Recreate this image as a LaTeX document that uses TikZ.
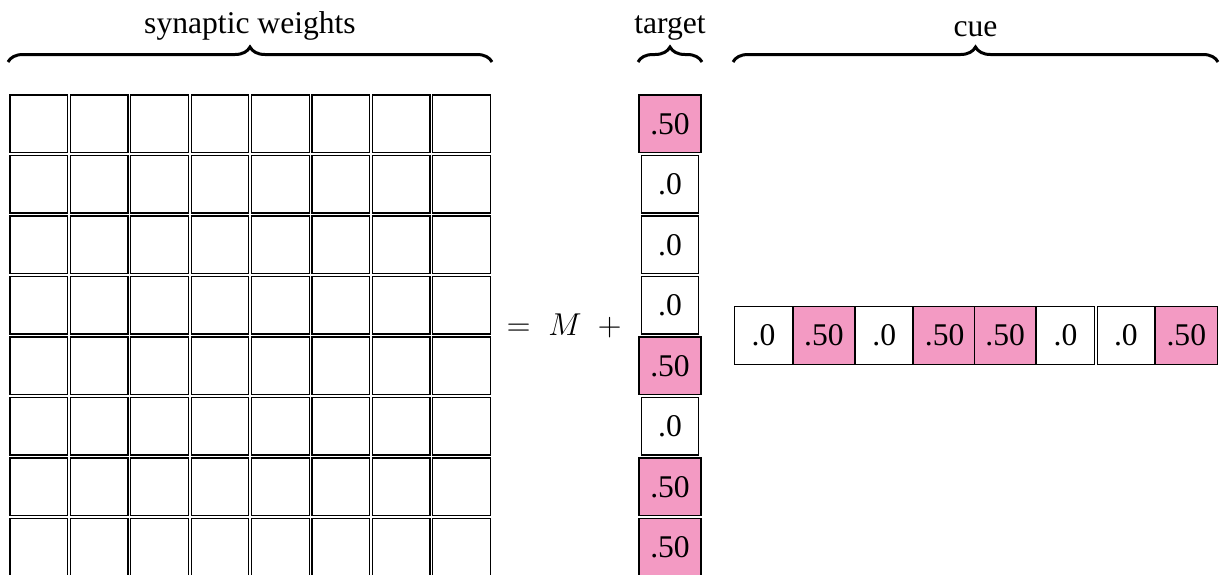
\RequirePackage{fix-cm}
\documentclass[tikz,border=0pt]{standalone}
\usepackage{fontspec}
\setmainfont{Liberation Serif}
\usetikzlibrary{decorations.pathreplacing}
\definecolor{cellpink}{RGB}{243,154,195}
\begin{document}
\begin{tikzpicture}[x=0.5pt,y=-0.5pt,
  every node/.style={font=\fontsize{15.8}{19}\selectfont},
  wcell/.style={draw=black, line width=0.6pt, minimum size=28.75pt, inner sep=0pt},
  vcell/.style={draw=black, line width=0.6pt, minimum size=28.75pt, inner sep=5.6pt, fill=white},
  pcell/.style={vcell, fill=cellpink},
  brc/.style={decorate, decoration={brace, amplitude=7.5pt}, line width=1.5pt},
  lbl/.style={anchor=base, inner sep=0pt}]
\useasboundingbox (0,0) rectangle (1220,574);
\clip (0,0) rectangle (1220,574);
% synaptic weight matrix
\foreach \i in {0,...,7}
  \foreach \j in {0,...,7}
    \node[wcell] (w-\i-\j) at ({38.75+60.4*\i},{123.75+60.5*\j}) {};
% target column
\foreach \sty/\val [count=\j from 0] in {pcell/.50, vcell/.0, vcell/.0, vcell/.0, pcell/.50, vcell/.0, pcell/.50, pcell/.50}
  \node[\sty] (t-\j) at (670,{123.75+60.5*\j}) {\val};
% cue row
\foreach \sty/\val [count=\k from 0] in {vcell/.0, pcell/.50, vcell/.0, pcell/.50, pcell/.50, vcell/.0, vcell/.0, pcell/.50}
  \node[\sty] (c-\k) at ({763.5+60.4*\k},335.5) {\val};
% equation
\node[anchor=base west, inner sep=0pt] (eq) at (506.2,335.7) {$=$\hspace{8.8pt}$M$\hspace{8.1pt}$+$};
% braces
\coordinate (sw-l) at (8,62);
\coordinate (sw-r) at (492,62);
\coordinate (tg-l) at (638,62);
\coordinate (tg-r) at (702,62);
\coordinate (cu-l) at (733,62);
\coordinate (cu-r) at (1218,62);
\draw[brc] (sw-l) -- (sw-r);
\draw[brc] (tg-l) -- (tg-r);
\draw[brc] (cu-l) -- (cu-r);
\node[lbl] (sw-lab) at (250,33.5) {synaptic weights};
\node[lbl] (tg-lab) at (670,33.3) {target};
\node[lbl] (cu-lab) at (975.5,36.5) {cue};
\end{tikzpicture}
\end{document}
